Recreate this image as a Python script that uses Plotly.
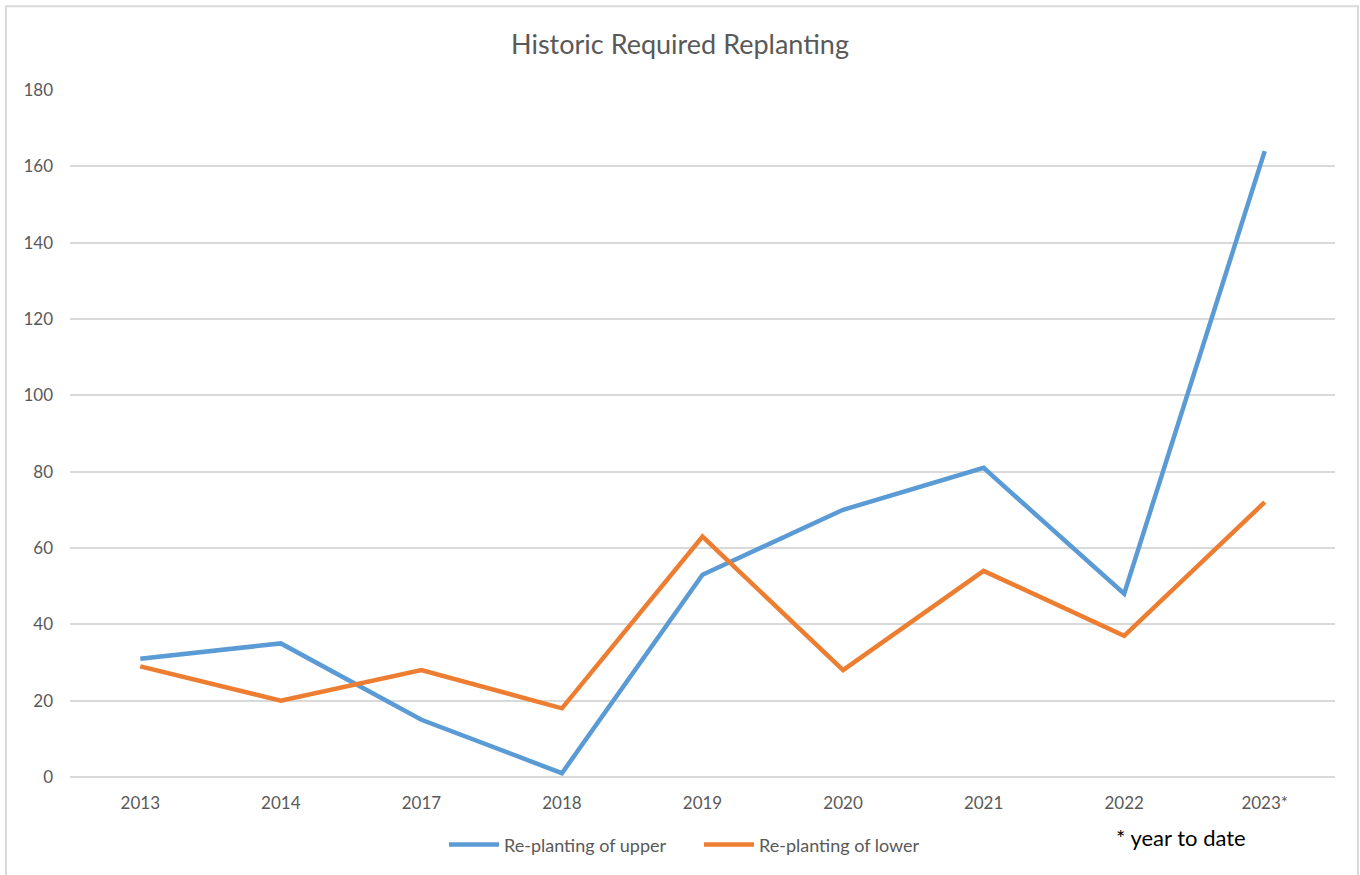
import plotly.graph_objects as go

years = ["2013", "2014", "2017", "2018", "2019", "2020", "2021", "2022", "2023*"]
upper = [31, 35, 15, 1, 53, 70, 81, 48, 164]
lower = [29, 20, 28, 18, 63, 28, 54, 37, 72]

# plot area in pixels (Excel-style chart)
W, H = 1360, 875
L, R, T, B = 70, 25, 90, 96
pw, ph = W - L - R, H - T - B


def px_x(x):
    return (x - L) / pw


def px_y(y):
    return (H - B - y) / ph


fig = go.Figure()
fig.add_trace(go.Scatter(
    x=years, y=upper, mode="lines", name="Re-planting of upper",
    line=dict(color="#5b9bd5", width=4.5),
))
fig.add_trace(go.Scatter(
    x=years, y=lower, mode="lines", name="Re-planting of lower",
    line=dict(color="#ed7d31", width=4.5),
))

fig.update_layout(
    width=W, height=H,
    margin=dict(l=L, r=R, t=T, b=B),
    paper_bgcolor="white",
    plot_bgcolor="white",
    font=dict(family="Lato, Open Sans, sans-serif", color="#595959", size=17),
    title=dict(text="Historic Required Replanting", x=0.5, xanchor="center",
               y=1 - 45 / H, yanchor="middle",
               font=dict(size=27, color="#595959")),
    showlegend=True,
    legend=dict(orientation="h", x=px_x(699), xanchor="center",
                y=px_y(847), yanchor="middle",
                font=dict(size=18, color="#595959"),
                itemwidth=50, tracegroupgap=0,
                entrywidth=190, entrywidthmode="pixels"),
    xaxis=dict(type="category", range=[-0.5, 8.5], showgrid=False,
               showline=False, zeroline=False, ticks="",
               ticklabelstandoff=14,
               tickfont=dict(size=17, color="#595959")),
    yaxis=dict(range=[0, 180], dtick=20, showgrid=True, gridcolor="#d9d9d9",
               gridwidth=1.5, zeroline=True, zerolinecolor="#d9d9d9",
               zerolinewidth=1.5, showline=False, ticks="",
               ticklabelstandoff=16,
               tickfont=dict(size=17, color="#595959")),
)

# chart border
fig.add_shape(type="rect", xref="paper", yref="paper",
              x0=px_x(6), x1=px_x(1358), y0=px_y(880), y1=px_y(6),
              line=dict(color="#d9d9d9", width=2), layer="below")

fig.add_annotation(text="* year to date", xref="paper", yref="paper",
                   x=px_x(1181), y=px_y(840), showarrow=False,
                   xanchor="center", yanchor="middle",
                   font=dict(size=22, color="#000000"))

fig.write_html("out.html", config={"displayModeBar": False},
               post_script="document.body.style.margin='0';")
